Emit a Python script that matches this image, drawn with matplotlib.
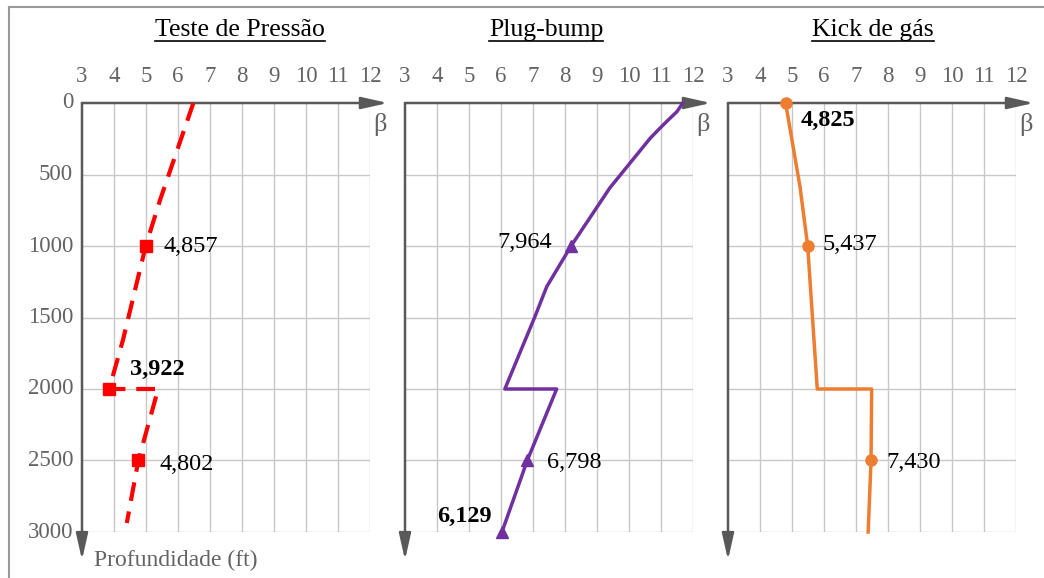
import matplotlib
matplotlib.use("Agg")
import matplotlib.pyplot as plt
from matplotlib.lines import Line2D

plt.rcParams["font.family"] = ["Liberation Serif", "DejaVu Serif"]

W, H = 1044, 578
GRID = "#C8C8C8"
AXIS = "#595959"
TICK = "#636363"

# data (depth in ft, beta)
titles = ["Teste de Pressão", "Plug-bump", "Kick de gás"]
beta_ticks = [3, 4, 5, 6, 7, 8, 9, 10, 11, 12]
depth_ticks = [0, 500, 1000, 1500, 2000, 2500, 3000]

teste_depth = [0, 678, 1000, 1657, 2000, 2000, 2500, 2937]
teste_beta = [6.48, 5.44, 4.99, 4.28, 3.85, 5.38, 4.76, 4.40]
teste_pt_depth = [1000, 2000, 2500]
teste_pt_beta = [4.99, 3.85, 4.76]
teste_labels = ["4,857", "3,922", "4,802"]

plug_depth = [0, 60, 120, 180, 247, 594, 1000, 1284, 1494, 1634, 2000, 2000, 2500, 3000]
plug_beta = [11.68, 11.50, 11.22, 10.95, 10.66, 9.40, 8.19, 7.43, 7.06, 6.80, 6.12, 7.74, 6.82, 6.03]
plug_pt_depth = [1000, 2500, 3000]
plug_pt_beta = [8.19, 6.82, 6.03]
plug_labels = ["7,964", "6,798", "6,129"]

kick_depth = [0, 585, 1000, 2000, 2000, 2500, 3000]
kick_beta = [4.80, 5.25, 5.49, 5.79, 7.49, 7.47, 7.38]
kick_pt_depth = [0, 1000, 2500]
kick_pt_beta = [4.80, 5.49, 7.47]
kick_labels = ["4,825", "5,437", "7,430"]


def fx(x):
    return x / W


def fy(y):
    return 1 - y / H


fig = plt.figure(figsize=(W / 100, H / 100), dpi=100)

# outer frame
fig.add_artist(Line2D([fx(9), fx(1044)], [fy(7), fy(7)], color="#999999", lw=1.5))
fig.add_artist(Line2D([fx(9), fx(9)], [fy(7), fy(578)], color="#999999", lw=1.5))

lefts = [82, 405, 728]
title_x = [240, 546, 873]
axes = []
for i, left in enumerate(lefts):
    ax = fig.add_axes([fx(left), fy(532), 288 / W, 429 / H])
    ax.set_xlim(3, 12)
    ax.set_ylim(3000, 0)
    for s in ax.spines.values():
        s.set_visible(False)
    ax.set_xticks([])
    ax.set_yticks([])
    for b in beta_ticks[1:]:
        ax.plot([b, b], [0, 3000], color=GRID, lw=1, zorder=1)
    for d in depth_ticks[1:]:
        ax.plot([3, 12], [d, d], color=GRID, lw=1, zorder=1)
    # axis arrows
    ax.annotate("", xy=(12.56, 0), xytext=(3, 0), annotation_clip=False,
                arrowprops=dict(arrowstyle="-|>,head_length=0.8,head_width=0.18",
                                color=AXIS, lw=1.8, mutation_scale=20,
                                shrinkA=0, shrinkB=0), zorder=3)
    ax.annotate("", xy=(3, 3196), xytext=(3, 0), annotation_clip=False,
                arrowprops=dict(arrowstyle="-|>,head_length=0.8,head_width=0.18",
                                color=AXIS, lw=1.8, mutation_scale=20,
                                shrinkA=0, shrinkB=0), zorder=3)
    for b in beta_ticks:
        ax.text(b, -185, str(b), ha="center", va="center", fontsize=16.5,
                color=TICK, clip_on=False)
    ax.text(12.3, 150, "β", ha="center", va="center", fontsize=19,
            color=TICK, clip_on=False)
    axes.append(ax)

ax1, ax2, ax3 = axes
for d in depth_ticks:
    ax1.text(2.72, d, str(d), ha="right", va="center", fontsize=16.5,
             color=TICK, clip_on=False)
fig.text(fx(94), fy(560), "Profundidade (ft)", ha="left", va="center",
         fontsize=17, color=TICK)

# Teste de Pressao
ax1.plot(teste_beta, teste_depth, color="#FF0000", lw=3, ls=(0, (4.5, 2.6)),
         zorder=4, clip_on=False)
ax1.plot(teste_pt_beta, teste_pt_depth, ls="none", marker="s", ms=8,
         color="#FF0000", zorder=5, clip_on=False)
fig.text(fx(163), fy(247), teste_labels[0], ha="left", va="center", fontsize=17.5)
fig.text(fx(130), fy(369), teste_labels[1], ha="left", va="center", fontsize=17.5,
         fontweight="bold")
fig.text(fx(160), fy(464), teste_labels[2], ha="left", va="center", fontsize=17.5)

# Plug-bump
purple = "#7030A0"
ax2.plot(plug_beta, plug_depth, color=purple, lw=2.5, zorder=4, clip_on=False)
ax2.plot(plug_pt_beta, plug_pt_depth, ls="none", marker="^", ms=9,
         color=purple, zorder=5, clip_on=False)
fig.text(fx(552), fy(243), plug_labels[0], ha="right", va="center", fontsize=17.5)
fig.text(fx(547), fy(462), plug_labels[1], ha="left", va="center", fontsize=17.5)
fig.text(fx(437), fy(516), plug_labels[2], ha="left", va="center", fontsize=17.5,
         fontweight="bold")

# Kick de gas
orange = "#ED7D31"
ax3.plot(kick_beta, kick_depth, color=orange, lw=2.5, zorder=4, clip_on=False)
ax3.plot(kick_pt_beta, kick_pt_depth, ls="none", marker="o", ms=8,
         color=orange, zorder=5, clip_on=False)
fig.text(fx(801), fy(120), kick_labels[0], ha="left", va="center", fontsize=17.5,
         fontweight="bold")
fig.text(fx(822), fy(245), kick_labels[1], ha="left", va="center", fontsize=17.5)
fig.text(fx(886), fy(463), kick_labels[2], ha="left", va="center", fontsize=17.5)

# underlined titles
renderer = fig.canvas.get_renderer()
for t, x in zip(titles, title_x):
    txt = fig.text(fx(x), fy(30), t, ha="center", va="center", fontsize=18.5)
    bb = txt.get_window_extent(renderer)
    fig.add_artist(Line2D([bb.x0 / W, bb.x1 / W], [fy(41), fy(41)],
                          color="black", lw=1.2))

fig.savefig("out.png", dpi=100)
